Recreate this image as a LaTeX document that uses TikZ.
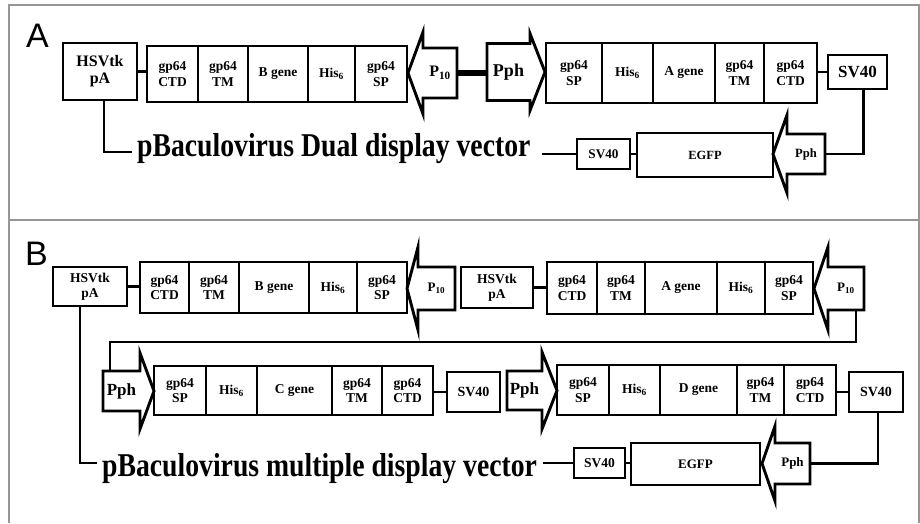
\documentclass[tikz,border=0pt]{standalone}
\usepackage{fontspec}
\setmainfont{Liberation Serif}
\setsansfont{Liberation Sans}
\usetikzlibrary{positioning,calc}
\definecolor{framegray}{RGB}{150,150,150}

\begin{document}
\begin{tikzpicture}[
  x=1pt, y=1pt,
  fsz/.style 2 args={font=\bfseries\fontsize{#1}{#2}\selectfont},
  seg/.style={draw, line width=2.9pt, inner sep=0pt, outer sep=0pt, align=center, fsz={13.5}{15.5}},
  promtext/.style={inner sep=0pt, outer sep=0pt, align=center},
  promline/.style={line width=2.9pt, line join=miter},
  wire/.style={line width=2.9pt},
  panelframe/.style={draw=framegray, line width=1.1pt},
  panellabel/.style={font=\sffamily\fontsize{34}{34}\selectfont, anchor=base, inner sep=0pt},
  vtitle/.style={font=\bfseries\fontsize{27.7}{30}\selectfont, anchor=base west, inner sep=0pt}
]
\useasboundingbox (0,0) rectangle (920,-523);

% panel frames
\draw[panelframe] (9,-523) -- (9,-5) -- (919,-5) -- (919,-523);
\draw[panelframe] (9,-220) -- (919,-220);

% ---- A: dual display vector
\node[panellabel] (lbla) at (37.5,-47) {A};

\node[seg, fsz={16}{17}, minimum width=74, minimum height=57] (hsva) at (100,-71.5) {HSVtk\\pA};
\node[seg, minimum width=51, minimum height=56, anchor=west] (bctd) at (147,-74) {gp64\\CTD};
\node[seg, minimum width=50, minimum height=56, right=0pt of bctd] (btm) {gp64\\TM};
\node[seg, minimum width=60, minimum height=56, right=0pt of btm] (bgene) {B gene};
\node[seg, minimum width=47, minimum height=56, right=0pt of bgene] (bhis) {His\textsubscript{6}};
\node[seg, minimum width=52, minimum height=56, right=0pt of bhis] (bsp) {gp64\\SP};
\node[promtext, fsz={16}{16}, minimum width=34, minimum height=50] (p10a) at (440,-73) {P\textsubscript{10}};

\node[promtext, fsz={18}{18}, minimum width=43, minimum height=57] (ppha) at (508.5,-72) {Pph};
\node[seg, minimum width=56, minimum height=60, anchor=west] (asp) at (546,-73) {gp64\\SP};
\node[seg, minimum width=51, minimum height=60, right=0pt of asp] (ahis) {His\textsubscript{6}};
\node[seg, minimum width=62, minimum height=60, right=0pt of ahis] (agene) {A gene};
\node[seg, minimum width=49, minimum height=60, right=0pt of agene] (atm) {gp64\\TM};
\node[seg, minimum width=53, minimum height=60, right=0pt of atm] (actd) {gp64\\CTD};
\node[seg, fsz={17}{17}, minimum width=59, minimum height=34] (sv40a) at (857.5,-72) {SV40};

\node[promtext, fsz={12.6}{12.6}, minimum width=38, minimum height=40] (pphar) at (806,-154) {Pph};
\node[seg, fsz={12.5}{12.5}, minimum width=136, minimum height=44] (egfpa) at (705,-155) {EGFP};
\node[seg, fsz={13.2}{13.2}, minimum width=53, minimum height=30] (sv40sa) at (603.5,-154) {SV40};
\node[vtitle] (titlea) at (137,-156.7) {\scalebox{1}[1.2]{pBaculovirus Dual display vector}};
\coordinate (tain) at (132,-152);
\coordinate (taout) at (542,-154);

\draw[wire] (hsva.east) -- (hsva.east -| bctd.west);
\draw[line width=6pt] (p10a.east) -- (p10a.east -| ppha.west);
\draw[wire] (sv40a.west) -- (sv40a.west -| actd.east);
\draw[wire] ([xshift=4pt]hsva.south) |- (tain);
\draw[wire] (taout) -- (sv40sa.west);
\draw[wire] (sv40sa.east) -- (sv40sa.east -| egfpa.west);
\draw[wire] ([xshift=6pt]sv40a.south) |- (pphar.east);

% ---- B: multiple display vector
\node[panellabel] (lblb) at (36.5,-265) {B};

\node[seg, fsz={13.5}{14.5}, minimum width=74, minimum height=39] (hsvb) at (90,-286.5) {HSVtk\\pA};
\node[seg, minimum width=49, minimum height=51, anchor=west] (bctdm) at (140,-287.5) {gp64\\CTD};
\node[seg, minimum width=50, minimum height=51, right=0pt of bctdm] (btmm) {gp64\\TM};
\node[seg, minimum width=70, minimum height=51, right=0pt of btmm] (bgenem) {B gene};
\node[seg, minimum width=48, minimum height=51, right=0pt of bgenem] (bhism) {His\textsubscript{6}};
\node[seg, minimum width=50, minimum height=51, right=0pt of bhism] (bspm) {gp64\\SP};
\node[promtext, fsz={13}{13}, minimum width=37, minimum height=43] (p10b) at (436.5,-288.5) {P\textsubscript{10}};

\node[seg, fsz={13.5}{14.5}, minimum width=72, minimum height=41] (hsvb2) at (497,-287.5) {HSVtk\\pA};
\node[seg, minimum width=50, minimum height=52, anchor=west] (actdm) at (547,-288) {gp64\\CTD};
\node[seg, minimum width=48, minimum height=52, right=0pt of actdm] (atmm) {gp64\\TM};
\node[seg, minimum width=72, minimum height=52, right=0pt of atmm] (agenem) {A gene};
\node[seg, minimum width=48, minimum height=52, right=0pt of agenem] (ahism) {His\textsubscript{6}};
\node[seg, minimum width=48, minimum height=52, right=0pt of ahism] (aspm) {gp64\\SP};
\node[promtext, fsz={13}{13}, minimum width=36, minimum height=43] (p10b2) at (846,-288.5) {P\textsubscript{10}};
\coordinate (loopl) at (110,-342);

\node[promtext, fsz={17}{17}, minimum width=37, minimum height=40] (pphc) at (121.5,-391) {Pph};
\node[seg, minimum width=52, minimum height=49, anchor=west] (cspm) at (154,-390.5) {gp64\\SP};
\node[seg, minimum width=51, minimum height=49, right=0pt of cspm] (chism) {His\textsubscript{6}};
\node[seg, minimum width=75, minimum height=49, right=0pt of chism] (cgenem) {C gene};
\node[seg, minimum width=50, minimum height=49, right=0pt of cgenem] (ctmm) {gp64\\TM};
\node[seg, minimum width=51, minimum height=49, right=0pt of ctmm] (cctdm) {gp64\\CTD};
\node[seg, fsz={14}{14}, minimum width=53, minimum height=40] (sv40c) at (473.5,-392) {SV40};

\node[promtext, fsz={17}{17}, minimum width=35, minimum height=39] (pphd) at (524.5,-390.5) {Pph};
\node[seg, minimum width=52, minimum height=50, anchor=west] (dspm) at (557,-390) {gp64\\SP};
\node[seg, minimum width=51, minimum height=50, right=0pt of dspm] (dhism) {His\textsubscript{6}};
\node[seg, minimum width=77, minimum height=50, right=0pt of dhism] (dgenem) {D gene};
\node[seg, minimum width=47, minimum height=50, right=0pt of dgenem] (dtmm) {gp64\\TM};
\node[seg, minimum width=52, minimum height=50, right=0pt of dtmm] (dctdm) {gp64\\CTD};
\node[seg, fsz={14}{14}, minimum width=54, minimum height=40] (sv40d) at (876,-392) {SV40};

\node[promtext, fsz={13}{13}, minimum width=35, minimum height=41] (pphbr) at (792.5,-463.5) {Pph};
\node[seg, fsz={13}{13}, minimum width=129, minimum height=42] (egfpb) at (695.5,-464) {EGFP};
\node[seg, fsz={13.5}{13.5}, minimum width=51, minimum height=30] (sv40sb) at (599.5,-463) {SV40};
\node[vtitle] (titleb) at (102,-476.7) {\scalebox{1}[1.2]{pBaculovirus multiple display vector}};
\coordinate (tbin) at (97,-463);
\coordinate (tbout) at (543,-463);

\draw[wire] (hsvb.east) -- (hsvb.east -| bctdm.west);
\draw[wire] (hsvb2.east) -- (hsvb2.east -| actdm.west);
\draw[wire] ([xshift=10pt]p10b2.south) |- (loopl) -- (loopl |- pphc.north);
\draw[wire] (sv40c.west) -- (sv40c.west -| cctdm.east);
\draw[wire] (sv40d.west) -- (sv40d.west -| dctdm.east);
\draw[wire] ([xshift=-10pt]hsvb.south) |- (tbin);
\draw[wire] (tbout) -- (sv40sb.west);
\draw[wire] (sv40sb.east) -- (sv40sb.east -| egfpb.west);
\draw[wire] ([xshift=2pt]sv40d.south) |- (pphbr.east);

% promoter arrows
\foreach \n/\e/\l in {p10a/16/15, pphar/19/14, p10b/20/11, p10b2/20/14, pphbr/17/13}
  \draw[promline] (\n.north east) -- (\n.north west) -- ++(0,\e) -- ($(\n.west)+(-\l,0)$)
    -- ($(\n.south west)+(0,-\e)$) -- (\n.south west) -- (\n.south east) -- cycle;
\foreach \n/\e/\l in {ppha/10/15, pphc/18/14, pphd/19/15}
  \draw[promline] (\n.north west) -- (\n.north east) -- ++(0,\e) -- ($(\n.east)+(\l,0)$)
    -- ($(\n.south east)+(0,-\e)$) -- (\n.south east) -- (\n.south west) -- cycle;

\end{tikzpicture}
\end{document}
